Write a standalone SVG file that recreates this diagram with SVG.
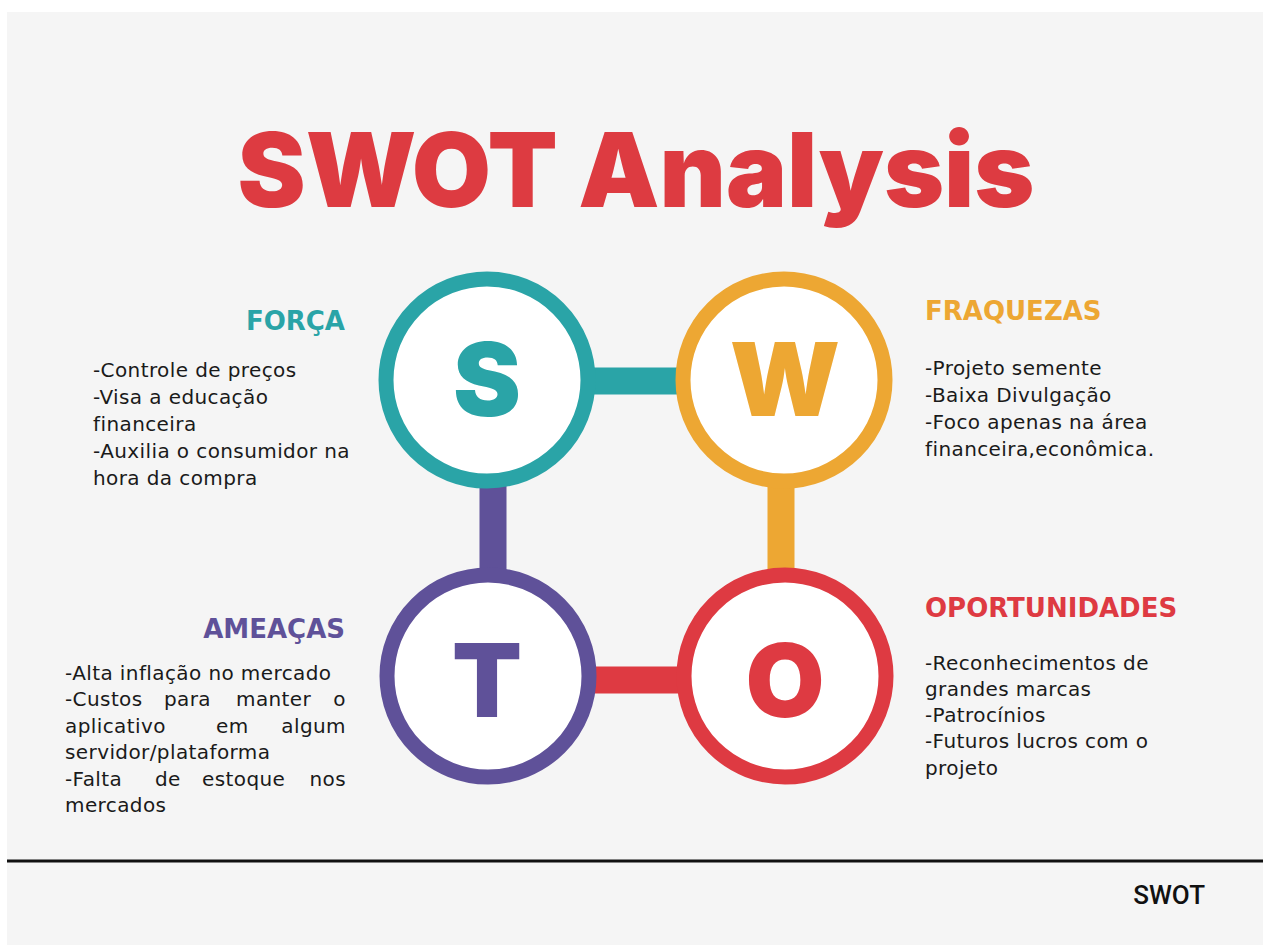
<svg xmlns="http://www.w3.org/2000/svg" width="1268" height="945" viewBox="0 0 1268 945">
<style>
.ring{fill:#ffffff;stroke-width:15}
.letter{font-family:Inter,"Open Sans","Liberation Sans",sans-serif;font-weight:900;font-size:102px;text-anchor:middle}
.head{font-family:"DejaVu Sans","Open Sans",sans-serif;font-weight:700;font-size:26px}
.body{font-family:"DejaVu Sans","Open Sans",sans-serif;font-size:20px;letter-spacing:0.4px;fill:#1a1a1a}
.bar{stroke-width:27;stroke-linecap:butt}
</style>
<rect x="0" y="0" width="1268" height="945" fill="#ffffff"/>
<rect x="7" y="12" width="1256" height="933" fill="#f5f5f5"/>
<text x="636" y="207" text-anchor="middle" font-family="Inter,'Open Sans','Liberation Sans',sans-serif" font-weight="900" font-size="103" fill="#dd3b41" textLength="797" lengthAdjust="spacingAndGlyphs">SWOT Analysis</text>

<g id="connectors">
<line class="bar" x1="590" y1="381" x2="680" y2="381" stroke="#2aa4a7"/>
<line class="bar" x1="493" y1="485" x2="493" y2="572" stroke="#5f5199"/>
<line class="bar" x1="781" y1="485" x2="781" y2="572" stroke="#eda733"/>
<line class="bar" x1="590" y1="680" x2="680" y2="680" stroke="#de3a42"/>
</g>

<g id="node-S">
<circle class="ring" cx="487" cy="380" r="101" stroke="#2aa4a7"/>
<text class="letter" x="487" y="416" fill="#2aa4a7">S</text>
</g>
<g id="node-W">
<circle class="ring" cx="784" cy="380" r="101" stroke="#eda733"/>
<text class="letter" x="785" y="416" fill="#eda733">W</text>
</g>
<g id="node-T">
<circle class="ring" cx="488" cy="676" r="101" stroke="#5f5199"/>
<text class="letter" x="487" y="717" fill="#5f5199">T</text>
</g>
<g id="node-O">
<circle class="ring" cx="785" cy="676" r="101" stroke="#de3a42"/>
<text class="letter" x="785" y="717" fill="#de3a42">O</text>
</g>

<g id="forca">
<text class="head" x="345" y="330" text-anchor="end" fill="#2aa4a7">FORÇA</text>
<text class="body" x="93" y="377">-Controle de preços</text>
<text class="body" x="93" y="404">-Visa a educação</text>
<text class="body" x="93" y="431">financeira</text>
<text class="body" x="93" y="458">-Auxilia o consumidor na</text>
<text class="body" x="93" y="485">hora da compra</text>
</g>

<g id="fraquezas">
<text class="head" x="925" y="320" fill="#eda733">FRAQUEZAS</text>
<text class="body" x="925" y="375">-Projeto semente</text>
<text class="body" x="925" y="402">-Baixa Divulgação</text>
<text class="body" x="925" y="429">-Foco apenas na área</text>
<text class="body" x="925" y="456">financeira,econômica.</text>
</g>

<g id="ameacas">
<text class="head" x="345" y="638" text-anchor="end" fill="#5f5199">AMEAÇAS</text>
<text class="body" x="65" y="680">-Alta inflação no mercado</text>
<text class="body" y="706"><tspan x="65">-Custos</tspan><tspan x="164">para</tspan><tspan x="236">manter</tspan><tspan x="346" text-anchor="end">o</tspan></text>
<text class="body" y="733"><tspan x="65">aplicativo</tspan><tspan x="216">em</tspan><tspan x="346" text-anchor="end">algum</tspan></text>
<text class="body" x="65" y="759">servidor/plataforma</text>
<text class="body" y="786"><tspan x="65">-Falta</tspan><tspan x="155">de</tspan><tspan x="202">estoque</tspan><tspan x="346" text-anchor="end">nos</tspan></text>
<text class="body" x="65" y="812">mercados</text>
</g>

<g id="oportunidades">
<text class="head" x="925" y="617" fill="#de3a42">OPORTUNIDADES</text>
<text class="body" x="925" y="670">-Reconhecimentos de</text>
<text class="body" x="925" y="696">grandes marcas</text>
<text class="body" x="925" y="722">-Patrocínios</text>
<text class="body" x="925" y="748">-Futuros lucros com o</text>
<text class="body" x="925" y="775">projeto</text>
</g>

<g id="footer">
<line x1="7" y1="861" x2="1263" y2="861" stroke="#111111" stroke-width="3"/>
<text x="1205" y="904" text-anchor="end" font-family="Roboto,'Liberation Sans',sans-serif" font-weight="500" font-size="26" fill="#111111">SWOT</text>
</g>
</svg>
